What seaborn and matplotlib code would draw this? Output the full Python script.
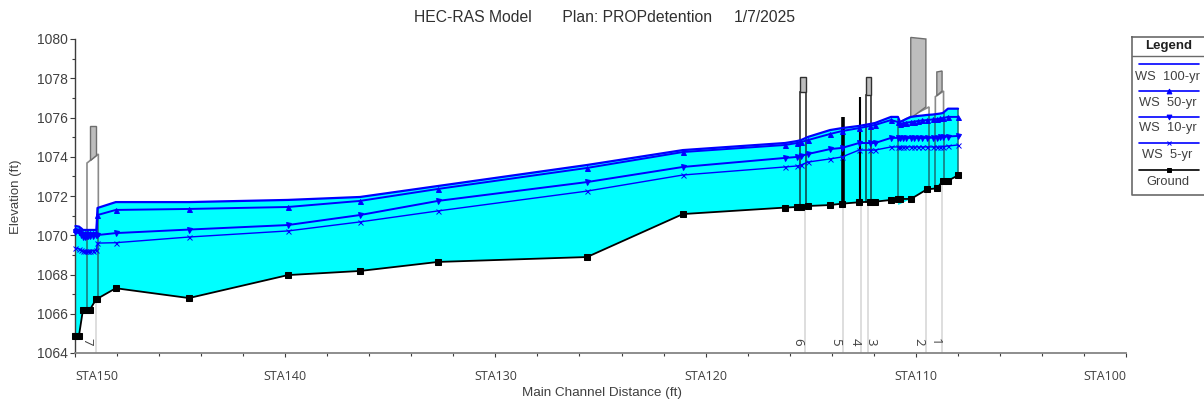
import matplotlib.pyplot as plt
import pandas as pd
import seaborn as sns

W, H = 1204, 403

ground_x = [149.98, 149.81, 149.62, 149.43, 149.29, 148.98, 148.93, 148.06, 144.58, 139.87,
            136.44, 132.73, 125.64, 121.08, 116.22, 115.65, 115.46, 115.13, 114.08, 113.51,
            112.70, 112.18, 111.94, 111.18, 110.85, 110.75, 110.23, 109.47, 108.99, 108.71,
            108.47, 107.99]
ground = [1064.89, 1064.89, 1066.21, 1066.21, 1066.21, 1066.77, 1066.77, 1067.30, 1066.80, 1067.97,
          1068.18, 1068.64, 1068.89, 1071.08, 1071.41, 1071.44, 1071.44, 1071.49, 1071.54, 1071.61,
          1071.68, 1071.71, 1071.71, 1071.80, 1071.85, 1071.85, 1071.85, 1072.34, 1072.39, 1072.78,
          1072.78, 1073.05]

water_x = [149.98, 149.81, 149.70, 149.62, 149.52, 149.43, 149.36, 149.29, 149.14, 148.98,
           148.93, 148.06, 144.58, 139.87, 136.44, 132.73, 125.64, 121.08, 116.22, 115.65,
           115.46, 115.13, 114.08, 113.51, 112.70, 112.18, 111.94, 111.18, 110.85, 110.75,
           110.60, 110.45, 110.23, 110.10, 109.90, 109.70, 109.47, 109.20, 108.99, 108.85,
           108.71, 108.47, 107.99]
ws_100 = [1070.47, 1070.44, 1070.35, 1070.27, 1070.27, 1070.27, 1070.27, 1070.27, 1070.27, 1070.27,
          1071.39, 1071.69, 1071.69, 1071.80, 1071.95, 1072.51, 1073.58, 1074.34, 1074.70, 1074.80,
          1074.85, 1075.01, 1075.36, 1075.46, 1075.57, 1075.67, 1075.72, 1076.03, 1076.03, 1075.77,
          1075.85, 1075.93, 1076.03, 1076.05, 1076.08, 1076.10, 1076.13, 1076.15, 1076.18, 1076.20,
          1076.23, 1076.45, 1076.45]
ws_50 = [1070.32, 1070.29, 1070.18, 1070.11, 1070.11, 1070.11, 1070.11, 1070.11, 1070.11, 1070.11,
         1071.03, 1071.29, 1071.34, 1071.44, 1071.75, 1072.36, 1073.43, 1074.24, 1074.60, 1074.70,
         1074.75, 1074.85, 1075.16, 1075.31, 1075.46, 1075.57, 1075.62, 1075.87, 1075.77, 1075.67,
         1075.70, 1075.74, 1075.77, 1075.79, 1075.82, 1075.85, 1075.87, 1075.90, 1075.92, 1075.95,
         1075.97, 1076.03, 1076.03]
ws_10 = [1070.18, 1070.17, 1070.02, 1069.93, 1069.93, 1069.94, 1069.95, 1069.96, 1069.98, 1070.01,
         1070.01, 1070.11, 1070.29, 1070.52, 1071.03, 1071.75, 1072.71, 1073.48, 1073.94, 1073.99,
         1074.04, 1074.14, 1074.39, 1074.45, 1074.70, 1074.70, 1074.70, 1074.96, 1074.96, 1074.96,
         1074.96, 1074.96, 1074.96, 1074.96, 1074.96, 1074.96, 1074.96, 1074.97, 1074.98, 1075.00,
         1075.01, 1075.03, 1075.06]
ws_5 = [1069.35, 1069.30, 1069.25, 1069.20, 1069.20, 1069.20, 1069.20, 1069.20, 1069.22, 1069.25,
        1069.60, 1069.62, 1069.91, 1070.22, 1070.68, 1071.24, 1072.25, 1073.07, 1073.48, 1073.53,
        1073.58, 1073.73, 1073.89, 1073.99, 1074.34, 1074.34, 1074.34, 1074.50, 1074.50, 1074.50,
        1074.50, 1074.50, 1074.50, 1074.50, 1074.50, 1074.50, 1074.50, 1074.50, 1074.50, 1074.50,
        1074.52, 1074.55, 1074.60]

section_labels = ["7", "6", "5", "4", "3", "2", "1"]
section_x = [149.02, 115.27, 113.44, 112.61, 112.27, 109.50, 108.75]
section_ground = [1066.77, 1071.45, 1071.61, 1071.68, 1071.70, 1072.30, 1072.78]
section_label_x = [149.42, 115.60, 113.80, 112.90, 112.13, 109.85, 109.07]

# walls that show through the water: x, bottom, top, colour
wall_x = [149.43, 148.89, 115.51, 115.22, 112.37, 112.13, 110.85, 109.37, 109.07, 108.68, 107.99]
wall_bottom = [1066.21, 1066.77, 1071.44, 1071.46, 1071.70, 1071.71, 1071.85, 1072.34, 1072.39, 1072.78, 1073.05]
wall_top = [1070.27, 1071.39, 1074.82, 1074.95, 1075.65, 1075.70, 1075.90, 1076.13, 1076.18, 1076.23, 1076.45]
wall_colors = ["#1b7073", "#1b7073", "#103c3e", "#103c3e", "#103c3e", "#103c3e",
               "#1b7073", "#1b7073", "#1b7073", "#1b7073", "#1b7073"]

deck_x = [[149.43, 149.43, 148.89, 148.89], [115.51, 115.51, 115.22, 115.22],
          [112.37, 112.37, 112.13, 112.13], [110.85, 110.75, 109.37, 109.37],
          [109.07, 109.07, 108.68, 108.68]]
deck_y = [[1066.21, 1073.68, 1074.14, 1066.77], [1071.44, 1077.31, 1077.31, 1071.46],
          [1071.70, 1077.15, 1077.15, 1071.71], [1071.85, 1075.77, 1076.54, 1072.34],
          [1072.39, 1077.06, 1077.35, 1072.78]]
deck_edges = ["#8a8a8a", "#303030", "#303030", "#8a8a8a", "#8a8a8a"]
rail_x = [[149.29, 149.29, 149.02, 149.02], [115.51, 115.51, 115.22, 115.22],
          [112.37, 112.37, 112.13, 112.13], [110.24, 110.24, 109.52, 109.52],
          [109.00, 109.00, 108.75, 108.75]]
rail_y = [[1073.83, 1075.57, 1075.57, 1074.09], [1077.31, 1078.06, 1078.06, 1077.31],
          [1077.15, 1078.06, 1078.06, 1077.15], [1075.97, 1080.08, 1080.00, 1076.54],
          [1077.11, 1078.32, 1078.37, 1077.35]]
rail_edges = ["#6e6e6e", "#303030", "#303030", "#6e6e6e", "#6e6e6e"]

# inline structures: x, top, ground, width
inline_x = [113.46, 112.65]
inline_top = [1076.03, 1077.06]
inline_bottom = [1071.61, 1071.68]
inline_lw = [2.6, 1.5]

wedge_x = [110.85, 110.84, 110.23]
wedge_y = [1071.85, 1071.54, 1071.85]

major_ticks = [150, 140, 130, 120, 110, 100]
minor_ticks = list(range(148, 100, -2))
tick_labels = ["STA150", "STA140", "STA130", "STA120", "STA110", "STA100"]
y_ticks = list(range(1064, 1081, 2))

legend_names = ["WS  100-yr", "WS  50-yr", "WS  10-yr", "WS  5-yr", "Ground"]
legend_line_y = [64, 91, 117, 143, 170]
legend_text_y = [76.7, 103, 128, 155, 182]

sns.set_theme(style="white")
plt.rcParams["font.family"] = ["Liberation Sans", "DejaVu Sans"]

GREY_TEXT = "#404040"
AXIS_GREY = "#858585"
DARK_AXIS = "#3c3c3c"
BLUE = "#0000ff"

fig = plt.figure(figsize=(W / 100, H / 100), dpi=100)
ax = fig.add_axes([75 / W, (H - 353) / H, 1051 / W, 314 / H])

water = pd.DataFrame({
    "station": water_x,
    "ws_100": ws_100,
    "ws_50": ws_50,
    "ws_10": ws_10,
    "ws_5": ws_5,
})
bed = pd.DataFrame({"station": ground_x, "ground": ground})

for xs, ys, edge in zip(deck_x, deck_y, deck_edges, strict=True):
    ax.fill(xs, ys, facecolor="white", edgecolor=edge, linewidth=1.2, zorder=1, clip_on=False)
for xs, ys, edge in zip(rail_x, rail_y, rail_edges, strict=True):
    ax.fill(xs, ys, facecolor="#bdbdbd", edgecolor=edge, linewidth=1.0, zorder=1.2, clip_on=False)

ax.fill(water_x + ground_x[::-1], ws_100 + ground[::-1], color="#00ffff", linewidth=0, zorder=2)
ax.fill(wedge_x, wedge_y, color="#00ffff", linewidth=0, zorder=2)

ax.vlines(wall_x, wall_bottom, wall_top, colors=wall_colors, linewidth=1.1, zorder=2.5)
for x, top, bottom, lw in zip(inline_x, inline_top, inline_bottom, inline_lw, strict=True):
    ax.vlines(x, bottom, top, color="black", linewidth=lw, zorder=3)

ax.vlines(section_x, 1064, section_ground, color="#d4d4d4", linewidth=1.1, zorder=1)
for label, x in zip(section_labels, section_label_x, strict=True):
    ax.text(x, 1064.58, label, rotation=270, ha="center", va="center", fontsize=9.5,
            color=GREY_TEXT, family="Open Sans")

profiles = [
    ("ws_100", None, 0, 1.6),
    ("ws_50", "^", 3.6, 1.4),
    ("ws_10", "v", 3.6, 1.4),
    ("ws_5", "x", 3.6, 1.0),
]
for col, marker, size, lw in profiles:
    sns.lineplot(data=water, x="station", y=col, estimator=None, sort=False, color=BLUE,
                 linewidth=lw, marker=marker, markersize=size, markeredgecolor=BLUE,
                 markeredgewidth=0.7, legend=False, ax=ax, zorder=4, clip_on=False)
sns.lineplot(data=bed, x="station", y="ground", estimator=None, sort=False, color="black",
             linewidth=1.3, marker="s", markersize=5, markeredgecolor="black",
             legend=False, ax=ax, zorder=5, clip_on=False)

ax.set_xlim(150, 100)
ax.set_ylim(1064, 1080)
ax.set_xticks(major_ticks)
ax.set_xticks(minor_ticks, minor=True)
ax.set_xticklabels(tick_labels, family="Open Sans", fontsize=9, color=GREY_TEXT)
xtick_text = ax.get_xticklabels()
xtick_text[0].set_ha("left")
xtick_text[-1].set_ha("right")
ax.set_yticks(y_ticks)
ax.set_yticks(list(range(1065, 1080, 2)), minor=True)
ax.set_yticklabels([str(v) for v in y_ticks], fontsize=10, color=GREY_TEXT)

for side in ["top", "right"]:
    ax.spines[side].set_visible(False)
ax.spines["left"].set_color(DARK_AXIS)
ax.spines["left"].set_linewidth(1.0)
ax.spines["bottom"].set_color(AXIS_GREY)
ax.spines["bottom"].set_linewidth(1.3)
ax.tick_params(axis="x", which="major", bottom=True, direction="out", color=DARK_AXIS,
               width=0.8, length=3, pad=9)
ax.tick_params(axis="x", which="minor", bottom=True, direction="out", color=DARK_AXIS,
               width=0.8, length=2.2)
ax.tick_params(axis="y", which="major", left=True, direction="out", color=DARK_AXIS,
               width=0.8, length=3.8, pad=1.5)
ax.tick_params(axis="y", which="minor", left=True, direction="out", color=DARK_AXIS,
               width=0.8, length=2.2)

ax.set_xlabel("")
ax.set_ylabel("")
fig.text(601.5 / W, 1 - 393 / H, "Main Channel Distance (ft)", ha="center", va="center",
         fontsize=9.7, color=GREY_TEXT)
fig.text(16 / W, 1 - 197 / H, "Elevation (ft)", rotation=90, ha="center", va="center",
         fontsize=9.5, color=GREY_TEXT)
fig.text(604 / W, 1 - 18 / H, "HEC-RAS Model       Plan: PROPdetention     1/7/2025", ha="center",
         va="center", fontsize=11.3, color="#303030")

# legend box, drawn in pixel coordinates and cut off by the image edge
leg = fig.add_axes([0, 0, 1, 1], facecolor="none")
leg.set_xlim(0, W)
leg.set_ylim(H, 0)
leg.axis("off")
leg.plot([1132, 1132, 1210, 1210, 1132], [37, 195, 195, 37, 37], color="#6a6a6a", linewidth=1.2)
leg.plot([1132, 1210], [56, 56], color="#6a6a6a", linewidth=1)
leg.text(1169, 45.5, "Legend", ha="center", va="center", fontsize=9.5, fontweight="bold", color="#202020")

legend_markers = [None, "^", "v", "x", "s"]
legend_colors = [BLUE, BLUE, BLUE, BLUE, "black"]
for name, line_y, text_y, marker, color in zip(legend_names, legend_line_y, legend_text_y,
                                               legend_markers, legend_colors, strict=True):
    leg.plot([1139, 1199], [line_y, line_y], color=color, linewidth=1.2)
    if marker:
        leg.plot([1169], [line_y], marker=marker, color=color, markersize=3.5, markeredgewidth=0.7)
    leg.text(1167.5, text_y, name, ha="center", va="center", fontsize=9.3, color=GREY_TEXT)

plt.savefig("out.png", dpi=100)
plt.close()
